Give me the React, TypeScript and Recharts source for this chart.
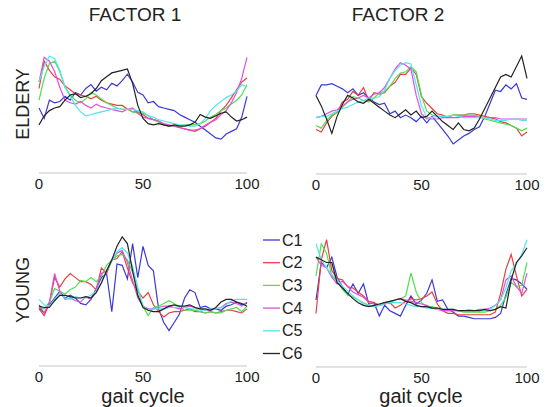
import { LineChart, Line, XAxis, YAxis } from "recharts";

// gait cycle samples (%)
const gaitCycle = [
  0, 2.5, 5, 7.5, 10, 12.5, 15, 17.5, 20, 22.5, 25, 27.5, 30, 32.5, 35, 37.5, 40, 42.5, 45, 47.5, 50,
  52.5, 55, 57.5, 60, 62.5, 65, 67.5, 70, 72.5, 75, 77.5, 80, 82.5, 85, 87.5, 90, 92.5, 95, 97.5, 100,
];
const xTicks = [0, 50, 100];
const components = ["C1", "C2", "C3", "C4", "C5", "C6"];
const colors = ["#3a3ad8", "#e84040", "#4ee04e", "#e04ee0", "#52e6ec", "#222222"];

// ELDERY - factor 1
const eldF1C1 = [5.0, 4.2, 5.6, 5.4, 5.5, 5.9, 5.6, 6.2, 6.0, 6.5, 6.8, 6.3, 6.6, 6.4, 6.9, 6.7, 7.1, 7.6, 7.0, 6.2, 6.0, 5.4, 5.5, 5.1, 5.0, 4.9, 4.8, 4.5, 4.3, 4.1, 3.9, 3.6, 3.3, 3.0, 2.7, 2.6, 3.0, 3.2, 3.4, 4.3, 5.9];
const eldF1C2 = [6.5, 8.6, 7.9, 7.4, 7.2, 6.7, 6.4, 6.1, 6.0, 5.9, 5.7, 5.9, 5.6, 5.4, 5.3, 5.2, 5.2, 4.9, 4.7, 4.7, 4.5, 4.2, 4.1, 4.0, 3.7, 3.6, 3.6, 3.5, 3.4, 3.3, 3.2, 3.4, 3.6, 3.9, 4.2, 4.8, 5.2, 5.8, 6.4, 7.0, 7.3];
const eldF1C3 = [5.6, 7.3, 8.4, 8.6, 7.8, 6.6, 6.0, 5.6, 5.4, 5.7, 6.2, 6.0, 5.7, 5.4, 5.2, 5.0, 4.9, 4.9, 4.7, 4.6, 4.6, 4.4, 4.1, 3.9, 3.7, 3.6, 3.6, 3.6, 3.7, 3.7, 3.7, 3.8, 4.0, 4.3, 4.5, 4.8, 5.0, 5.3, 5.6, 6.0, 6.8];
const eldF1C4 = [7.0, 8.9, 8.6, 7.8, 6.6, 5.6, 5.4, 5.3, 5.5, 5.2, 5.0, 5.3, 5.1, 5.0, 4.9, 4.8, 4.7, 4.9, 5.0, 4.6, 4.3, 4.2, 4.1, 4.0, 3.8, 3.7, 3.6, 3.5, 3.4, 3.3, 3.3, 3.4, 3.7, 3.9, 4.1, 4.5, 4.8, 5.4, 6.2, 7.3, 8.9];
const eldF1C5 = [7.0, 8.2, 9.0, 8.8, 7.9, 6.6, 5.9, 5.2, 4.7, 4.4, 4.5, 4.6, 4.7, 4.8, 4.9, 5.0, 4.9, 4.9, 4.9, 4.8, 4.7, 4.4, 4.3, 4.1, 4.0, 3.9, 3.8, 3.7, 3.7, 3.6, 3.6, 3.8, 4.2, 4.8, 5.2, 5.5, 5.8, 6.0, 6.3, 6.8, 6.6];
const eldF1C6 = [3.7, 4.4, 4.8, 5.0, 5.1, 5.6, 6.0, 6.1, 5.8, 5.9, 6.1, 6.5, 7.1, 7.4, 7.7, 7.8, 7.9, 8.0, 6.9, 5.2, 4.2, 3.8, 3.7, 3.8, 3.7, 3.6, 3.7, 3.6, 3.6, 3.7, 3.9, 4.5, 4.3, 4.2, 4.4, 4.6, 4.7, 4.3, 4.0, 4.1, 4.3];

// ELDERY - factor 2
const eldF2C1 = [6.0, 6.8, 6.8, 6.9, 6.7, 6.5, 6.2, 6.5, 6.0, 6.2, 5.8, 5.5, 5.3, 5.4, 4.6, 4.8, 4.3, 4.5, 4.3, 4.0, 4.4, 3.9, 4.4, 3.9, 3.4, 2.9, 2.3, 2.6, 2.9, 3.1, 3.4, 3.6, 4.4, 5.4, 6.4, 6.3, 6.8, 6.5, 6.9, 5.8, 5.7];
const eldF2C2 = [3.4, 3.2, 3.9, 4.4, 4.7, 5.5, 5.7, 6.3, 6.0, 6.6, 5.6, 6.2, 6.1, 6.2, 6.7, 7.0, 7.6, 7.6, 8.1, 7.6, 5.9, 5.4, 5.0, 4.6, 4.5, 4.3, 4.5, 4.5, 4.5, 4.6, 4.6, 4.5, 4.4, 4.3, 4.2, 4.0, 3.9, 3.7, 3.5, 2.9, 3.2];
const eldF2C3 = [3.7, 3.5, 4.1, 4.5, 4.7, 5.1, 5.5, 5.9, 5.8, 5.6, 5.5, 5.8, 6.2, 6.3, 6.7, 7.3, 7.7, 7.8, 8.2, 7.8, 6.0, 4.8, 4.5, 4.4, 4.4, 4.4, 4.5, 4.5, 4.5, 4.5, 4.5, 4.4, 4.2, 4.1, 4.0, 3.9, 3.8, 3.7, 3.5, 3.3, 3.5];
const eldF2C4 = [4.3, 4.4, 4.6, 4.8, 4.9, 5.2, 5.5, 5.7, 5.8, 6.0, 5.8, 6.1, 6.2, 6.6, 7.3, 8.0, 8.5, 8.3, 8.0, 6.0, 4.6, 4.2, 4.2, 4.2, 4.3, 4.3, 4.3, 4.3, 4.4, 4.4, 4.4, 4.3, 4.3, 4.3, 4.3, 4.2, 4.2, 4.2, 4.2, 4.2, 4.2];
const eldF2C5 = [4.3, 4.4, 4.4, 4.6, 4.8, 5.0, 5.1, 5.3, 5.5, 5.6, 5.8, 5.8, 5.9, 6.4, 7.3, 7.9, 8.3, 8.5, 8.4, 6.8, 5.2, 4.3, 4.3, 4.4, 4.4, 4.4, 4.5, 4.4, 4.3, 4.3, 4.3, 4.3, 4.3, 4.2, 4.1, 4.1, 4.1, 4.2, 4.2, 4.1, 4.1];
const eldF2C6 = [6.0, 5.2, 4.2, 3.1, 4.4, 5.3, 6.0, 5.8, 5.5, 5.4, 5.7, 5.4, 5.1, 4.8, 4.5, 4.3, 4.6, 4.9, 4.5, 4.8, 4.3, 4.4, 4.8, 4.4, 4.0, 3.7, 3.4, 3.9, 3.4, 3.3, 3.5, 4.2, 5.0, 5.8, 6.6, 7.4, 7.6, 7.4, 8.2, 9.0, 7.3];

// YOUNG - factor 1
const yngF1C1 = [4.3, 3.9, 4.5, 5.0, 5.5, 5.0, 5.2, 5.0, 4.6, 4.5, 4.9, 5.7, 6.5, 6.8, 4.0, 7.5, 7.4, 6.4, 9.0, 6.5, 8.8, 7.4, 7.0, 4.2, 3.2, 2.6, 3.2, 3.8, 5.0, 5.6, 5.4, 4.3, 4.4, 4.2, 4.2, 4.1, 4.4, 4.5, 4.7, 4.5, 4.6];
const yngF1C2 = [4.2, 3.7, 4.6, 6.5, 5.8, 6.4, 6.8, 6.5, 6.2, 6.2, 6.0, 5.6, 7.2, 6.8, 7.8, 7.9, 8.4, 7.2, 6.1, 5.5, 5.0, 5.4, 4.5, 4.0, 3.6, 3.9, 4.0, 4.0, 4.1, 4.2, 4.0, 4.0, 3.9, 4.0, 3.9, 4.0, 4.1, 4.1, 4.0, 3.9, 4.2];
const yngF1C3 = [4.3, 4.2, 4.7, 5.7, 5.5, 5.3, 5.6, 5.8, 6.3, 6.2, 6.5, 6.2, 6.6, 7.4, 7.8, 8.1, 8.2, 7.8, 6.9, 5.6, 4.4, 3.7, 4.3, 4.4, 4.6, 4.8, 4.6, 4.3, 4.1, 4.1, 4.1, 4.0, 3.9, 4.0, 3.9, 3.9, 4.1, 4.2, 4.3, 4.0, 4.4];
const yngF1C4 = [4.5, 3.9, 4.7, 6.8, 5.5, 4.9, 5.0, 4.8, 4.7, 5.1, 4.9, 5.6, 6.8, 7.0, 7.8, 8.3, 8.5, 7.6, 6.3, 5.0, 4.4, 4.2, 4.2, 4.3, 4.4, 4.4, 4.3, 4.2, 4.3, 4.4, 4.3, 4.2, 4.1, 4.1, 4.2, 4.3, 4.6, 4.7, 4.6, 4.4, 4.7];
const yngF1C5 = [4.9, 4.5, 4.4, 4.9, 5.3, 5.0, 4.9, 5.1, 5.0, 5.0, 5.2, 5.5, 6.2, 7.0, 7.7, 8.4, 8.7, 8.3, 7.3, 5.8, 4.4, 4.1, 4.2, 4.2, 4.2, 4.3, 4.3, 4.4, 4.3, 4.2, 4.2, 4.1, 4.1, 4.2, 4.2, 4.3, 4.5, 4.8, 4.9, 4.9, 4.9];
const yngF1C6 = [4.4, 4.3, 4.3, 4.8, 5.2, 5.2, 5.1, 5.0, 5.0, 5.1, 5.0, 5.4, 6.1, 7.0, 7.8, 8.8, 9.5, 9.0, 7.0, 5.2, 4.3, 4.1, 4.0, 4.0, 4.2, 4.4, 4.5, 4.4, 4.4, 4.5, 4.3, 4.2, 4.2, 4.1, 4.3, 4.7, 4.9, 4.9, 4.7, 4.6, 4.4];

// YOUNG - factor 2
const yngF2C1 = [5.0, 7.8, 7.4, 8.2, 6.7, 6.0, 5.4, 6.2, 5.5, 6.2, 4.7, 4.8, 3.8, 4.6, 4.2, 4.0, 3.8, 4.6, 5.3, 4.7, 5.0, 5.5, 6.5, 4.9, 5.0, 4.3, 4.1, 3.8, 3.8, 3.7, 3.6, 3.6, 3.6, 3.6, 3.7, 4.0, 5.4, 6.6, 6.5, 6.2, 5.8];
const yngF2C2 = [4.0, 8.0, 9.5, 7.2, 6.6, 6.5, 6.0, 5.9, 5.6, 5.3, 4.9, 4.8, 4.6, 4.7, 4.8, 4.4, 4.6, 4.9, 5.1, 5.0, 5.1, 5.3, 5.6, 4.7, 4.2, 4.0, 4.0, 3.9, 3.9, 3.9, 3.9, 3.9, 3.9, 3.9, 4.1, 5.5, 7.3, 8.4, 6.8, 5.3, 5.8];
const yngF2C3 = [6.8, 9.2, 8.5, 6.8, 6.4, 5.8, 5.4, 5.2, 5.0, 4.8, 4.6, 4.5, 4.6, 4.8, 4.9, 5.0, 5.1, 5.3, 7.0, 5.6, 4.8, 4.5, 4.5, 4.4, 4.3, 4.2, 4.2, 4.2, 4.1, 4.1, 4.1, 4.1, 4.1, 4.2, 4.3, 4.6, 5.2, 6.3, 6.0, 6.1, 7.8];
const yngF2C4 = [8.2, 7.6, 7.4, 6.7, 6.2, 6.4, 6.0, 5.6, 5.4, 5.2, 4.8, 4.7, 4.6, 4.7, 4.8, 5.0, 5.1, 5.0, 4.9, 4.8, 4.7, 4.6, 4.4, 4.3, 4.2, 4.2, 4.2, 4.2, 4.2, 4.2, 4.2, 4.3, 4.3, 4.4, 4.6, 5.0, 6.5, 6.8, 6.0, 5.5, 7.0];
const yngF2C5 = [9.2, 8.0, 7.4, 6.9, 6.5, 6.0, 5.7, 5.3, 5.0, 4.7, 4.6, 4.5, 4.6, 4.7, 4.8, 4.8, 4.8, 4.7, 4.6, 4.5, 4.5, 4.4, 4.4, 4.3, 4.3, 4.3, 4.3, 4.2, 4.2, 4.3, 4.2, 4.2, 4.2, 4.3, 4.6, 5.0, 5.9, 7.2, 7.7, 8.4, 9.5];
const yngF2C6 = [8.2, 8.0, 7.8, 7.8, 6.3, 5.9, 5.5, 5.1, 4.8, 4.6, 4.5, 4.6, 4.7, 4.8, 4.9, 5.0, 5.1, 4.9, 4.8, 4.6, 4.5, 4.5, 4.4, 4.4, 4.3, 4.3, 4.3, 4.2, 4.2, 4.2, 4.2, 4.2, 4.3, 4.2, 4.3, 4.5, 4.4, 6.5, 7.8, 8.3, 8.9];

function buildRows(series: number[][]) {
  return gaitCycle.map((g, i) => {
    const row: Record<string, number> = { g };
    series.forEach((s, k) => {
      row[components[k]] = s[i];
    });
    return row;
  });
}

const axisGray = "#c4c4c4";

function Panel({ series, left, top, width, height }: { series: number[][]; left: number; top: number; width: number; height: number }) {
  const rows = buildRows(series);
  return (
    <div style={{ position: "absolute", left: left - 10, top: top - 5 }}>
      <LineChart width={width + 25} height={height + 30} data={rows} margin={{ top: 5, right: 15, left: 10, bottom: 0 }}>
        <XAxis
          dataKey="g"
          type="number"
          domain={[0, 100]}
          ticks={xTicks}
          height={25}
          axisLine={{ stroke: axisGray }}
          tickLine={false}
          tickSize={3}
          tickMargin={2}
          tick={{ fill: "#222", fontSize: 15 }}
          interval={0}
        />
        <YAxis domain={[0, 10]} width={0} tick={false} tickLine={false} axisLine={{ stroke: axisGray }} />
        {components.map((c, k) => (
          <Line key={c} dataKey={c} stroke={colors[k]} strokeWidth={1.2} dot={false} type="linear" isAnimationActive={false} />
        ))}
      </LineChart>
    </div>
  );
}

export default function App() {
  return (
    <div
      style={{
        position: "absolute",
        left: 0,
        top: 0,
        width: 549,
        height: 407,
        background: "#fff",
        overflow: "hidden",
        fontFamily: "'Liberation Sans', Arial, sans-serif",
      }}
    >
      <Panel series={[eldF1C1, eldF1C2, eldF1C3, eldF1C4, eldF1C5, eldF1C6]} left={39} top={43} width={208} height={130} />
      <Panel series={[eldF2C1, eldF2C2, eldF2C3, eldF2C4, eldF2C5, eldF2C6]} left={316} top={43} width={211} height={131} />
      <Panel series={[yngF1C1, yngF1C2, yngF1C3, yngF1C4, yngF1C5, yngF1C6]} left={39} top={230} width={208} height={136} />
      <Panel series={[yngF2C1, yngF2C2, yngF2C3, yngF2C4, yngF2C5, yngF2C6]} left={316} top={233} width={211} height={134} />

      <svg width={549} height={407} style={{ position: "absolute", left: 0, top: 0, pointerEvents: "none" }}>
        <text x={135} y={14} fontSize={19} fill="#222" textAnchor="middle" dominantBaseline="central">FACTOR 1</text>
        <text x={398} y={14} fontSize={19} fill="#222" textAnchor="middle" dominantBaseline="central">FACTOR 2</text>
        <text x={23} y={104} fontSize={18} fill="#222" textAnchor="middle" dominantBaseline="central" transform="rotate(-90 23 104)">ELDERY</text>
        <text x={23} y={290} fontSize={18} fill="#222" textAnchor="middle" dominantBaseline="central" transform="rotate(-90 23 290)">YOUNG</text>
        <text x={143} y={402.5} fontSize={20} fill="#222" textAnchor="middle">gait cycle</text>
        <text x={421} y={402.5} fontSize={20} fill="#222" textAnchor="middle">gait cycle</text>
        {components.map((c, k) => (
          <g key={c}>
            <line x1={263} x2={280} y1={240 + k * 22.7} y2={240 + k * 22.7} stroke={colors[k]} strokeWidth={1.3} />
            <text x={282} y={240 + k * 22.7} fontSize={16} fill="#222" dominantBaseline="central">{c}</text>
          </g>
        ))}
      </svg>
    </div>
  );
}
